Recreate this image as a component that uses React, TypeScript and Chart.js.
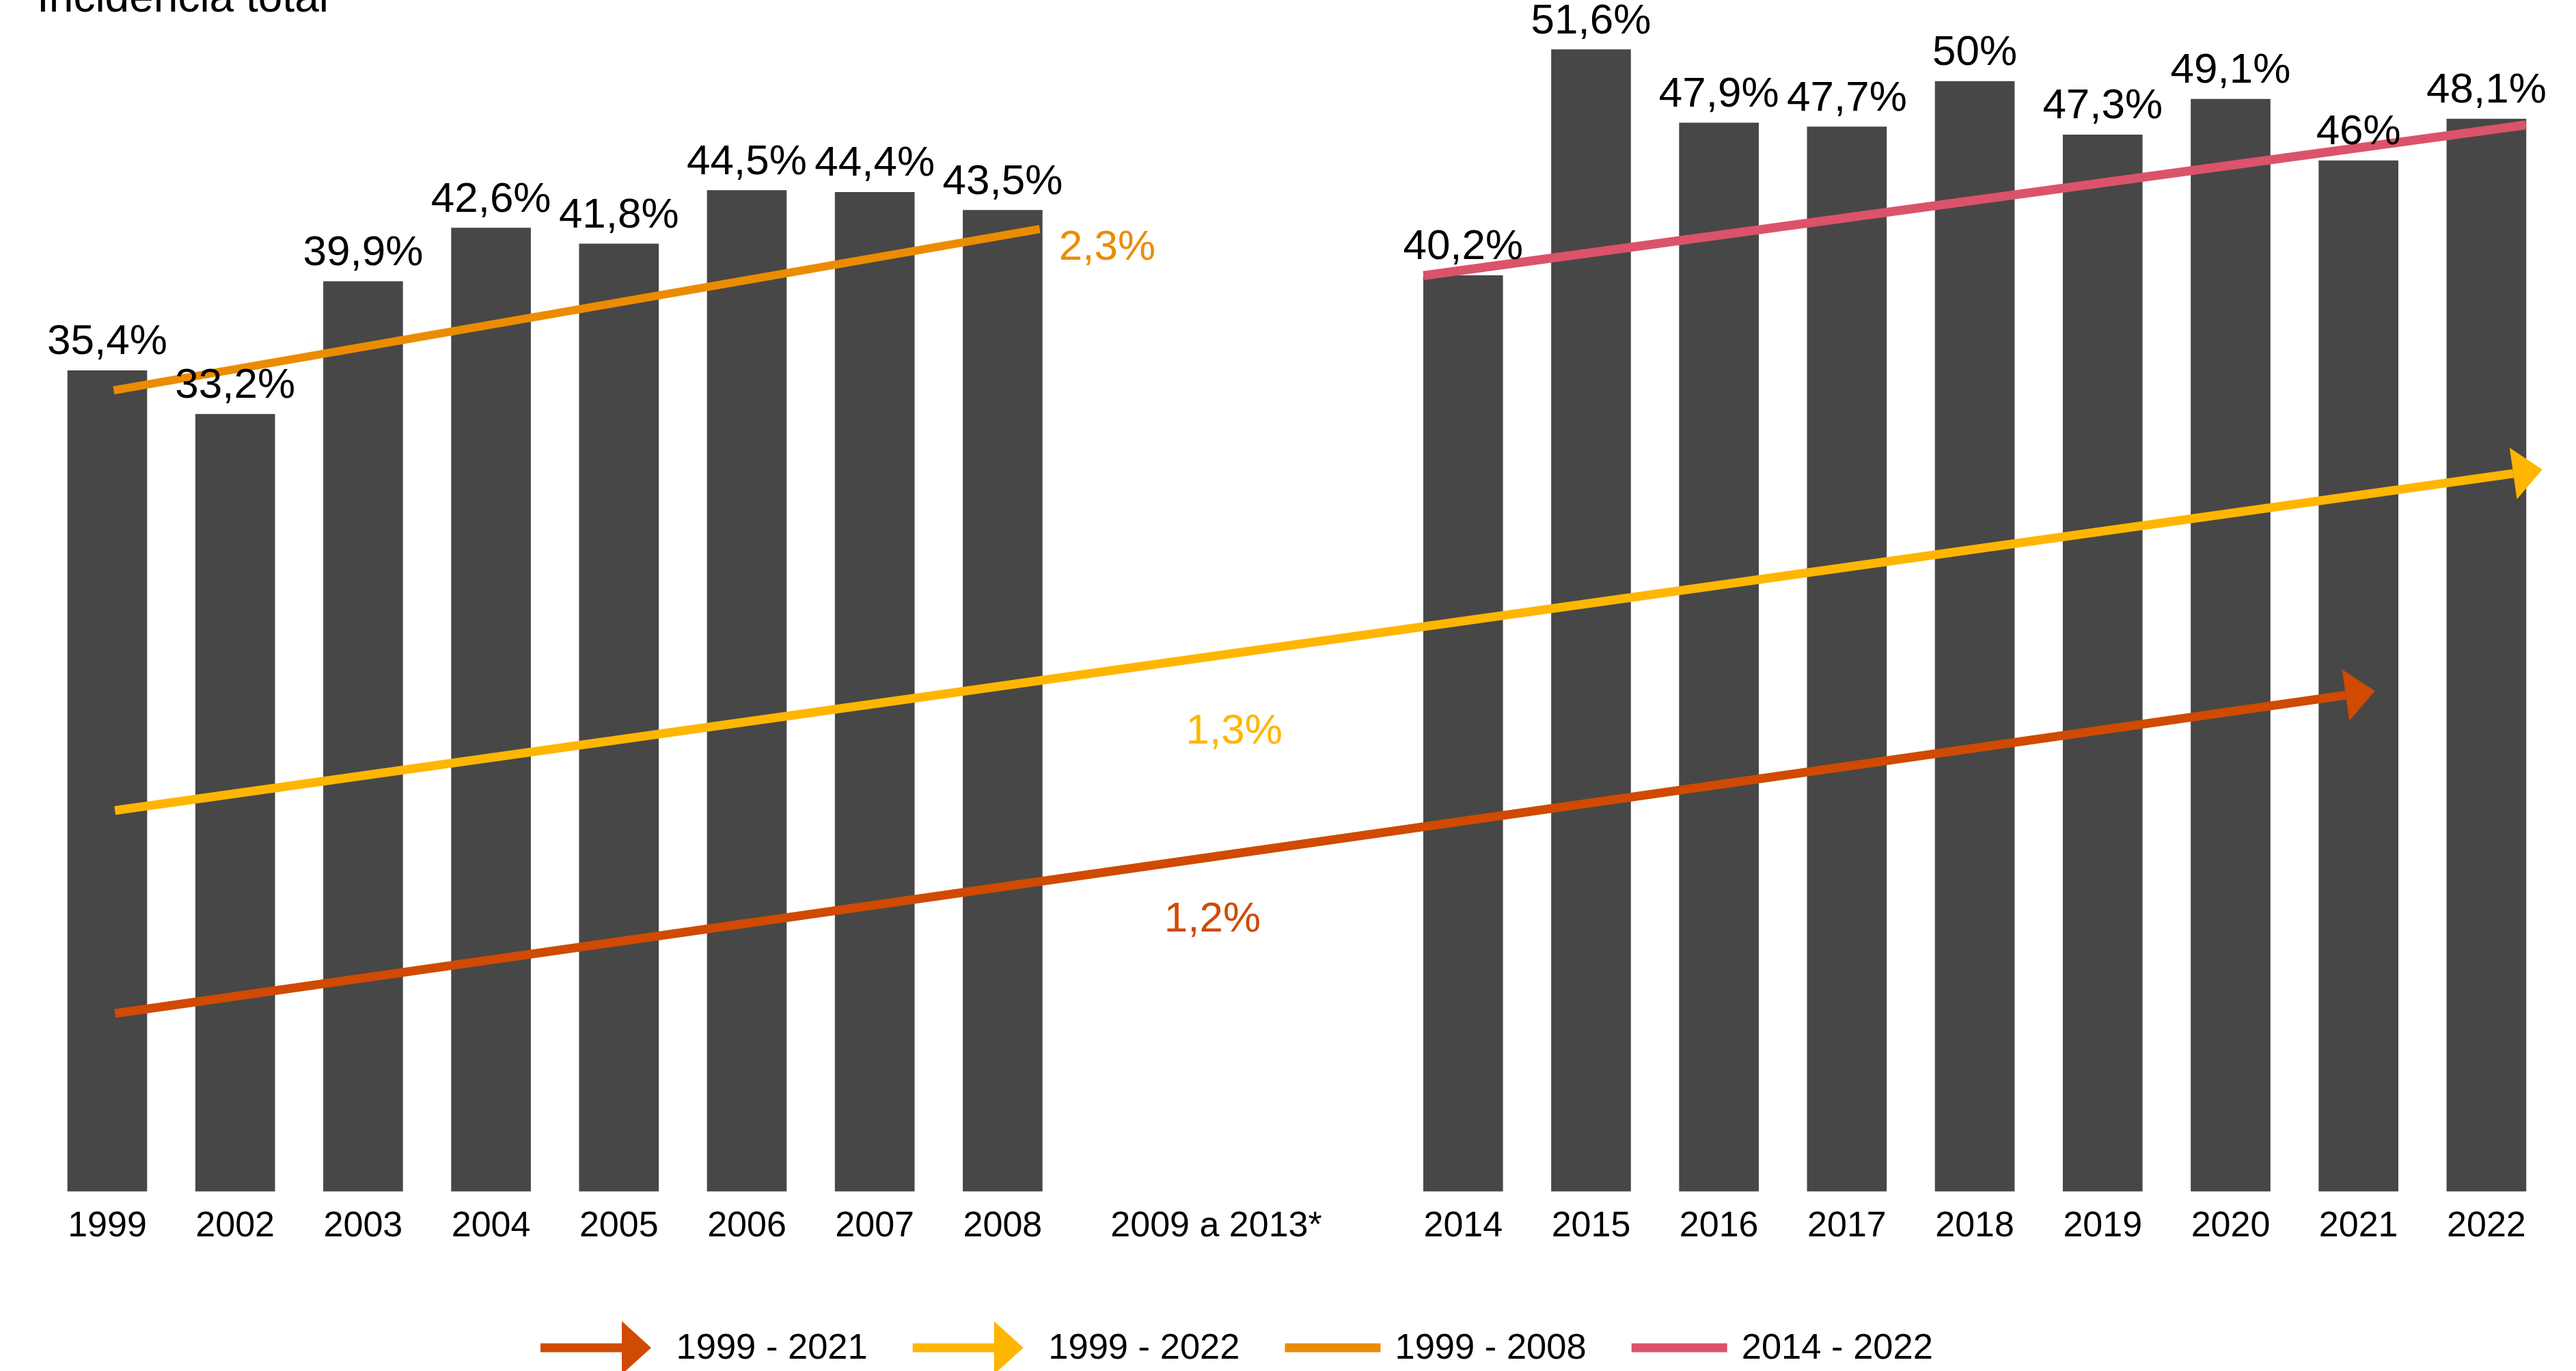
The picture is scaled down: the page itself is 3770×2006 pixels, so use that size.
import React, { useEffect, useRef } from 'react';
import { Chart, registerables } from 'chart.js';

Chart.register(...registerables);

// ---------------- data ----------------
const categories = ['1999', '2002', '2003', '2004', '2005', '2006', '2007', '2008', '2009 a 2013*', '2014', '2015', '2016', '2017', '2018', '2019', '2020', '2021', '2022'];
const incidence: (number | null)[] = [35.4, 33.2, 39.9, 42.6, 41.8, 44.5, 44.4, 43.5, null, 40.2, 51.6, 47.9, 47.7, 50, 47.3, 49.1, 46, 48.1];

const trendNames = ['1999 - 2021', '1999 - 2022', '1999 - 2008', '2014 - 2022'];
const trendRates = ['1,2%', '1,3%', '2,3%', ''];
const trendStartX = [0.06, 0.06, 0.05, 10.29];
const trendStartY = [2.97, 13.21, 34.41, 40.2];
const trendEndX = [17.5, 18.81, 7.29, 18.91];
const trendEndY = [19.03, 30.21, 42.55, 47.8];
const rateLabelX = [8.64, 8.81, 7.44, 0];
const rateLabelY = [7.1, 16.59, 41.0, 0];

const titleText = 'Incidencia total';

// ---------------- styles / layout ----------------
const BAR_COLOR = '#474747';
const trendColors = ['#D04A02', '#FFB600', '#EB8C00', '#DB536A'];
const trendArrow = [true, true, false, false];
const trendWidth = [13, 13, 12, 13];
const rateAlign: CanvasTextAlign[] = ['center', 'center', 'left', 'center'];
const FONT = '"Liberation Sans", Arial, Helvetica, sans-serif';
const GAP_SLOT = 8.67;
const GAP_SHIFT = 1.6;

const slotPos = (i: number) => (i <= 7 ? i : i === 8 ? GAP_SLOT : i + GAP_SHIFT);
const fmtPct = (v: number) => String(v).replace('.', ',') + '%';

const annotationPlugin = {
  id: 'annotations',
  afterDatasetsDraw(chart: any) {
    const ctx = chart.ctx as CanvasRenderingContext2D;
    const xs = chart.scales.x;
    const ys = chart.scales.y;
    ctx.save();

    // arrowheads
    chart.data.datasets.forEach((ds: any, di: number) => {
      if (!ds.arrow) return;
      const meta = chart.getDatasetMeta(di);
      const p1 = meta.data[0];
      const p2 = meta.data[meta.data.length - 1];
      const dx = p2.x - p1.x;
      const dy = p2.y - p1.y;
      const len = Math.hypot(dx, dy);
      const ux = dx / len;
      const uy = dy / len;
      const nx = -uy;
      const ny = ux;
      const L = 43;
      const W = 38;
      ctx.fillStyle = ds.borderColor;
      ctx.beginPath();
      ctx.moveTo(p2.x + ux * L, p2.y + uy * L);
      ctx.lineTo(p2.x + nx * W, p2.y + ny * W);
      ctx.lineTo(p2.x - nx * W, p2.y - ny * W);
      ctx.closePath();
      ctx.fill();
    });

    // bar value labels
    const barMeta = chart.getDatasetMeta(0);
    ctx.font = `62px ${FONT}`;
    ctx.fillStyle = '#000';
    ctx.textAlign = 'center';
    ctx.textBaseline = 'alphabetic';
    barMeta.data.forEach((el: any, i: number) => {
      const raw = chart.data.datasets[0].data[i];
      ctx.fillText(fmtPct(raw.y), el.x, el.y - 24);
    });

    // trend rate labels
    trendRates.forEach((t, i) => {
      if (!t) return;
      ctx.fillStyle = trendColors[i];
      ctx.textAlign = rateAlign[i];
      ctx.fillText(t, xs.getPixelForValue(rateLabelX[i]), ys.getPixelForValue(rateLabelY[i]));
    });
    ctx.restore();
  },
  afterDraw(chart: any) {
    const ctx = chart.ctx as CanvasRenderingContext2D;
    ctx.save();
    // title (partly cropped at top)
    ctx.font = `64px ${FONT}`;
    ctx.fillStyle = '#000';
    ctx.textAlign = 'left';
    ctx.textBaseline = 'alphabetic';
    ctx.fillText(titleText, 54, 17);

    // legend
    const cy = 1972;
    let x = 791;
    ctx.font = `52.5px ${FONT}`;
    trendNames.forEach((name, i) => {
      ctx.fillStyle = trendColors[i];
      if (trendArrow[i]) {
        ctx.fillRect(x, cy - 6.5, 122, 13);
        ctx.beginPath();
        ctx.moveTo(x + 119, cy - 39);
        ctx.lineTo(x + 162, cy);
        ctx.lineTo(x + 119, cy + 39);
        ctx.closePath();
        ctx.fill();
        x += 162 + 36.5;
      } else {
        ctx.fillRect(x, cy - 6.5, 140, 13);
        x += 140 + 21;
      }
      ctx.fillStyle = '#000';
      ctx.fillText(name, x, cy + 16);
      x += ctx.measureText(name).width + 66;
    });
    ctx.restore();
  },
};

export default function App() {
  const canvasRef = useRef<HTMLCanvasElement | null>(null);

  useEffect(() => {
    if (!canvasRef.current) return;
    const barData = categories
      .map((c, i) => ({ x: slotPos(i), y: incidence[i] }))
      .filter((d) => d.y !== null);

    const lineSets = trendNames.map((name, i) => ({
      type: 'line' as const,
      label: name,
      data: [
        { x: trendStartX[i], y: trendStartY[i] },
        { x: trendEndX[i], y: trendEndY[i] },
      ],
      borderColor: trendColors[i],
      backgroundColor: trendColors[i],
      borderWidth: trendWidth[i],
      borderCapStyle: 'butt',
      pointRadius: 0,
      fill: false,
      tension: 0,
      clip: false,
      order: 0,
      arrow: trendArrow[i],
    }));

    const chart = new Chart(canvasRef.current, {
      type: 'bar',
      data: {
        datasets: [
          {
            type: 'bar',
            label: 'Incidência',
            data: barData as any,
            backgroundColor: BAR_COLOR,
            barThickness: 116,
            base: -6,
            order: 1,
            clip: false,
          } as any,
          ...(lineSets as any[]),
        ],
      },
      options: {
        animation: false,
        responsive: true,
        maintainAspectRatio: false,
        devicePixelRatio: 1,
        layout: { padding: { left: 63.4, right: 18.8, top: 17.5, bottom: 0 } },
        plugins: {
          legend: { display: false },
          tooltip: { enabled: false },
          title: { display: false },
        },
        scales: {
          x: {
            type: 'linear',
            offset: false,
            min: -0.5,
            max: 19.2,
            grid: { display: false, drawTicks: false, offset: false },
            border: { display: false },
            afterBuildTicks: (scale: any) => {
              scale.ticks = categories.map((_, i) => ({ value: slotPos(i) }));
            },
            afterFit: (scale: any) => {
              scale.height = 263;
            },
            ticks: {
              autoSkip: false,
              maxRotation: 0,
              minRotation: 0,
              padding: 20,
              color: '#000',
              font: { size: 52, family: FONT },
              callback: (_v: any, index: number) => categories[index],
            },
          },
          y: {
            display: false,
            min: -6,
            max: 53.5,
          },
        },
      } as any,
      plugins: [annotationPlugin],
    });
    return () => chart.destroy();
  }, []);

  return (
    <div style={{ position: 'absolute', left: 0, top: 0, width: 3770, height: 2006, background: '#fff' }}>
      <canvas ref={canvasRef} />
    </div>
  );
}
